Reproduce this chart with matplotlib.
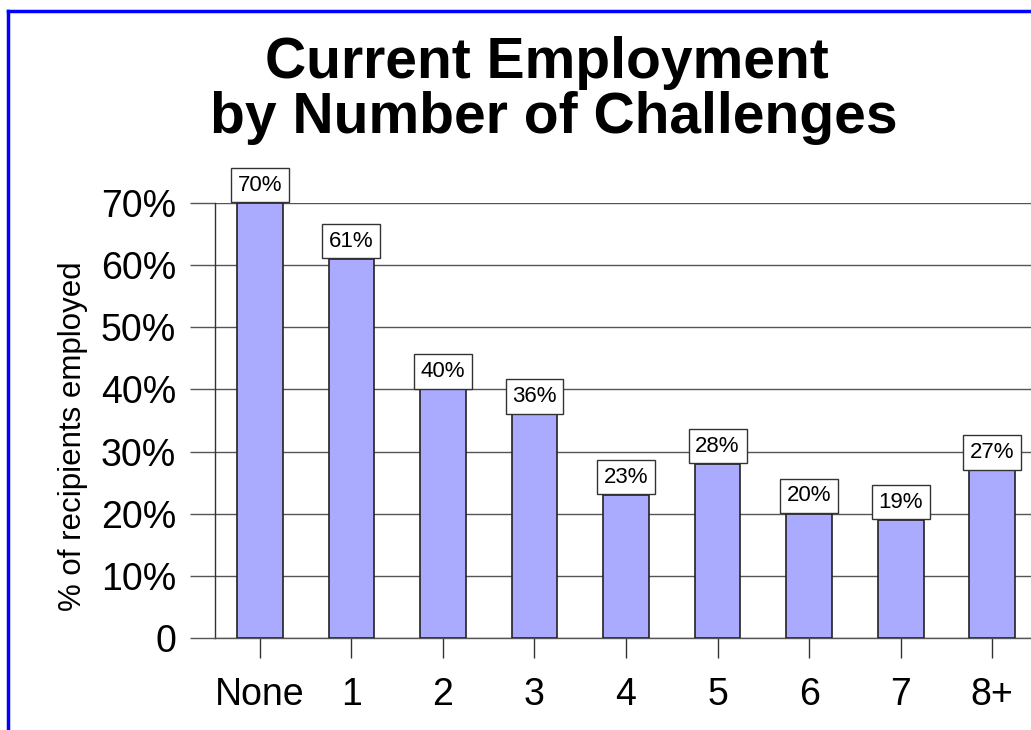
import matplotlib
matplotlib.use("Agg")
import matplotlib.pyplot as plt
from matplotlib.lines import Line2D
from matplotlib.ticker import FuncFormatter

plt.rcParams['font.family'] = ['Liberation Sans', 'DejaVu Sans']

categories = ["None", "1", "2", "3", "4", "5", "6", "7", "8+"]
employed_pct = [70, 61, 40, 36, 23, 28, 20, 19, 27]
y_ticks = [0, 10, 20, 30, 40, 50, 60, 70]

W, H = 1031, 730
fig = plt.figure(figsize=(W / 100, H / 100), dpi=100)
fig.patch.set_facecolor("white")

# axes: left edge at the y-axis line, extends past the right side of the figure
ax = fig.add_axes([215 / W, (H - 638) / H, (1038 - 215) / W, (638 - 203) / H])
x = list(range(len(categories)))
ax.bar(x, employed_pct, width=0.5, color="#AAAAFF", edgecolor="#222222",
       linewidth=1.2, zorder=3)
ax.set_xlim(-0.49, 8.5)
ax.set_ylim(0, 70)

ax.set_yticks(y_ticks)
ax.yaxis.set_major_formatter(FuncFormatter(lambda v, p: "0" if v == 0 else f"{int(v)}%"))
ax.set_xticks(x)
ax.set_xticklabels(categories)
ax.grid(axis="y", color="#555555", linewidth=1.0, zorder=0)
ax.tick_params(axis="y", length=18, width=1.0, color="#555555", labelsize=27, pad=10)
ax.tick_params(axis="x", length=14.4, width=1.0, color="#333333", labelsize=27, pad=14)

for side in ("top", "right"):
    ax.spines[side].set_visible(False)
ax.spines["left"].set_color("#333333")
ax.spines["bottom"].set_color("#555555")
ax.spines["left"].set_linewidth(1.0)
ax.spines["bottom"].set_linewidth(1.0)

ax.set_ylabel("% of recipients employed", fontsize=22.5)
ax.yaxis.set_label_coords((88 - 215) / (1038 - 215), (638 - 436) / (638 - 203))

# value labels in white boxes sitting on top of each bar
pad = 0.3
fs = 16
for xi, v in zip(x, employed_pct):
    ax.annotate(f"{v}%", xy=(xi, v), xytext=(0, pad * fs + 0.5), textcoords="offset points",
                ha="center", va="bottom", fontsize=fs, zorder=5,
                bbox=dict(boxstyle=f"square,pad={pad}", facecolor="white",
                          edgecolor="#333333", linewidth=1.0))

fig.text(547 / W, 1 - 78 / H, "Current Employment", ha="center", va="baseline",
         fontsize=41, fontweight="bold")
fig.text(554 / W, 1 - 133 / H, "by Number of Challenges", ha="center", va="baseline",
         fontsize=41, fontweight="bold")

# blue frame along the top and left edges
fig.add_artist(Line2D([8 / W, 1.0], [1 - 11 / H, 1 - 11 / H], transform=fig.transFigure,
                      color="#0000FF", linewidth=2.5))
fig.add_artist(Line2D([8 / W, 8 / W], [1 - 11 / H, 0], transform=fig.transFigure,
                      color="#0000FF", linewidth=2.5))

fig.savefig("out.png", dpi=100)
